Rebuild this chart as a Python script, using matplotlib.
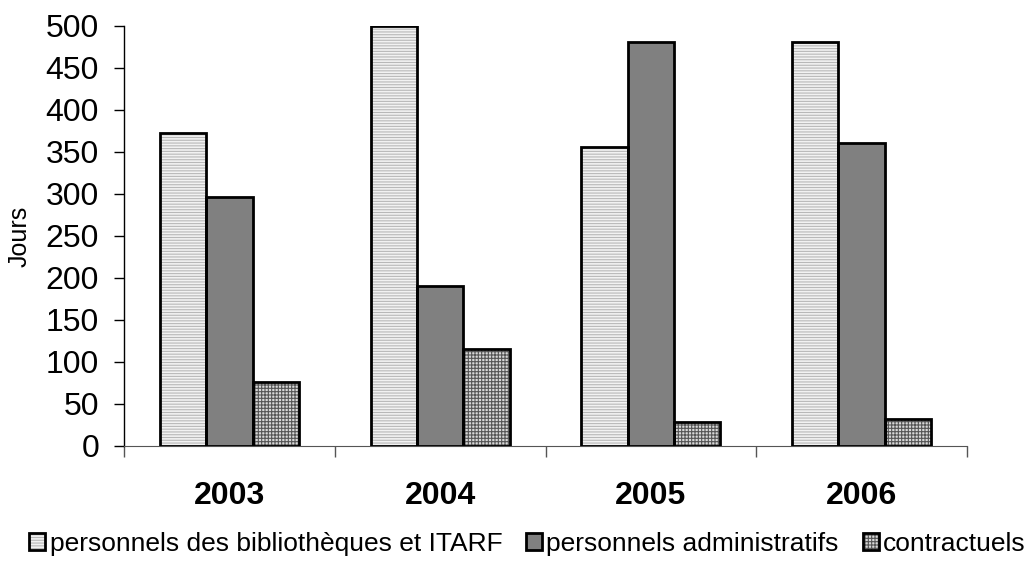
import matplotlib
matplotlib.use("Agg")
import matplotlib.pyplot as plt
import numpy as np
from matplotlib.legend_handler import HandlerTuple

plt.rcParams['font.family'] = ['Liberation Sans', 'DejaVu Sans']
plt.rcParams['hatch.linewidth'] = 0.8

years = ['2003', '2004', '2005', '2006']
series_names = ['personnels des bibliothèques et ITARF', 'personnels administratifs', 'contractuels']
bib = [372, 500, 356, 481]
admin = [296, 190, 481, 360]
contr = [76, 116, 28, 32]

fig = plt.figure(figsize=(10.26, 5.61), dpi=100)
ax = fig.add_axes([0.1209, 0.205, 0.9425 - 0.1209, 0.954 - 0.205])

x = np.arange(len(years))
w = 0.22
styles = [
    dict(facecolor='#f2f2f2', hatch='------', hatchcolor='#b8b8b8'),
    dict(facecolor='#808080', hatch=None, hatchcolor='#808080'),
    dict(facecolor='#d8d8d8', hatch='+++++', hatchcolor='#555555'),
]
handles = []
for i, (vals, st) in enumerate(zip([bib, admin, contr], styles)):
    pos = x + (i - 1) * w
    b1 = ax.bar(pos, vals, w, facecolor=st['facecolor'], hatch=st['hatch'],
                edgecolor=st['hatchcolor'], linewidth=0, zorder=2)
    b2 = ax.bar(pos, vals, w, fill=False, edgecolor='black', linewidth=2, zorder=3)
    handles.append((b1, b2))

ax.set_xlim(-0.5, len(years) - 0.5)
ax.set_ylim(0, 500)
ax.set_yticks(np.arange(0, 501, 50))
ax.tick_params(axis='y', labelsize=23, length=7, width=1, direction='out', pad=11)
ax.set_xticks(np.arange(-0.5, len(years), 1))
ax.set_xticklabels([])
ax.tick_params(axis='x', length=8, width=1, direction='out', color='#555555')
for xi, yr in zip(x, years):
    ax.annotate(yr, xy=(xi, 0), xycoords=('data', 'axes fraction'),
                xytext=(0, -25), textcoords='offset points', ha='center', va='top',
                fontsize=23, fontweight='bold')
for s in ['top', 'right']:
    ax.spines[s].set_visible(False)
ax.spines['left'].set_linewidth(1)
ax.spines['bottom'].set_color('#555555')
ax.set_ylabel('Jours', fontsize=18, labelpad=10)

fig.legend(handles, series_names, loc='center', bbox_to_anchor=(0.514, 0.03), ncol=3,
           frameon=False, fontsize=19, handlelength=0.62, handleheight=0.62,
           handletextpad=0.16, columnspacing=0.9, borderpad=0,
           handler_map={tuple: HandlerTuple(ndivide=1)})

fig.savefig('out.png', dpi=100)
